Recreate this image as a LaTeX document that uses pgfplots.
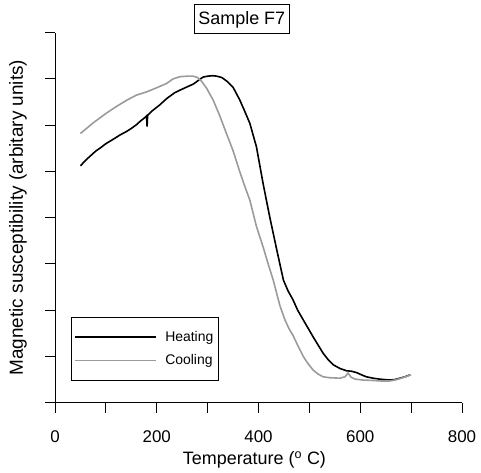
\documentclass[border=0pt]{standalone}
\usepackage{fontspec}
\setmainfont{Liberation Sans}
\usepackage{pgfplots}
\pgfplotsset{compat=1.18}
\definecolor{cgray}{RGB}{155,155,155}
\begin{document}
\begin{tikzpicture}
\begin{axis}[
  scale only axis, width=407bp, height=370bp,
  xmin=0, xmax=800, ymin=0, ymax=8,
  clip=false,
  axis x line*=bottom, axis y line*=left,
  axis line style={line width=0.9bp},
  tick align=outside, major tick length=10bp,
  tick style={line width=0.9bp, black},
  xtick={0,100,...,800}, xticklabels={0,,200,,400,,600,,800},
  ytick={0,...,8}, yticklabels={},
  /pgf/number format/assume math mode=true,
  xticklabel style={font=\fontsize{17}{20}\selectfont, yshift=-14bp},
  xlabel={Temperature (\textsuperscript{o} C)},
  ylabel={Magnetic susceptibility (arbitary units)},
  xlabel style={font=\fontsize{18}{21}\selectfont, at={(axis description cs:0.49,-0.155)}, anchor=center},
  ylabel style={font=\fontsize{19}{22}\selectfont, at={(axis description cs:-0.0909,0.5)}, anchor=center},
  legend style={at={(axis description cs:0.040,0.059)}, anchor=south west, draw=black, line width=0.8bp,
    font=\fontsize{14}{16}\selectfont, inner ysep=12bp, inner xsep=3bp, row sep=8bp, cells={anchor=west},
    /tikz/every odd column/.append style={column sep=6bp}},
  legend image code/.code={\draw[#1] (0bp,0bp) -- (81bp,0bp);},
]
\addplot[black, line width=1.6bp] table {
50 5.12
60 5.24
70 5.34
80 5.44
88 5.50
100 5.60
115 5.70
128 5.79
140 5.86
150 5.93
160 6.01
167 6.08
175 6.15
180 6.20
181 5.97
182 6.21
190 6.30
206 6.44
220 6.58
235 6.70
246 6.76
260 6.83
272 6.89
282 6.97
291 7.04
300 7.06
310 7.07
318 7.06
328 7.03
338 6.95
350 6.82
363 6.55
373 6.30
383 6.04
396 5.53
409 4.74
422 4.02
436 3.30
449 2.65
458 2.42
468 2.22
477 2.00
488 1.79
497 1.62
507 1.43
517 1.25
527 1.07
537 0.93
547 0.82
560 0.74
573 0.69
583 0.68
593 0.65
603 0.60
612 0.56
625 0.53
638 0.51
648 0.50
658 0.49
668 0.50
678 0.53
688 0.56
697 0.60
};
\addlegendentry{Heating}
\addplot[cgray, line width=1.6bp] table {
50 5.82
75 6.05
101 6.26
120 6.40
141 6.54
160 6.65
180 6.72
200 6.81
219 6.90
232 7.00
246 7.05
260 7.06
272 7.06
280 7.03
288 6.95
298 6.80
311 6.54
324 6.20
337 5.82
350 5.45
363 5.00
373 4.68
383 4.38
396 3.81
409 3.37
419 3.00
429 2.65
442 2.10
452 1.79
460 1.60
468 1.45
478 1.22
488 1.00
497 0.85
507 0.71
517 0.62
527 0.56
540 0.54
560 0.53
570 0.56
576 0.64
582 0.55
590 0.51
605 0.49
625 0.48
640 0.47
658 0.47
668 0.49
678 0.52
686 0.55
694 0.58
700 0.60
};
\addlegendentry{Cooling}
\node[draw, line width=0.8bp, inner xsep=4.5bp, minimum height=29bp, font=\fontsize{18}{21}\selectfont] at (axis description cs:0.459,1.036) {Sample F7};
\coordinate (O) at (rel axis cs:0,0);
\end{axis}
\useasboundingbox ([shift={(-55bp,-70.3bp)}]O) rectangle ++(481bp,473bp);
\end{tikzpicture}
\end{document}
